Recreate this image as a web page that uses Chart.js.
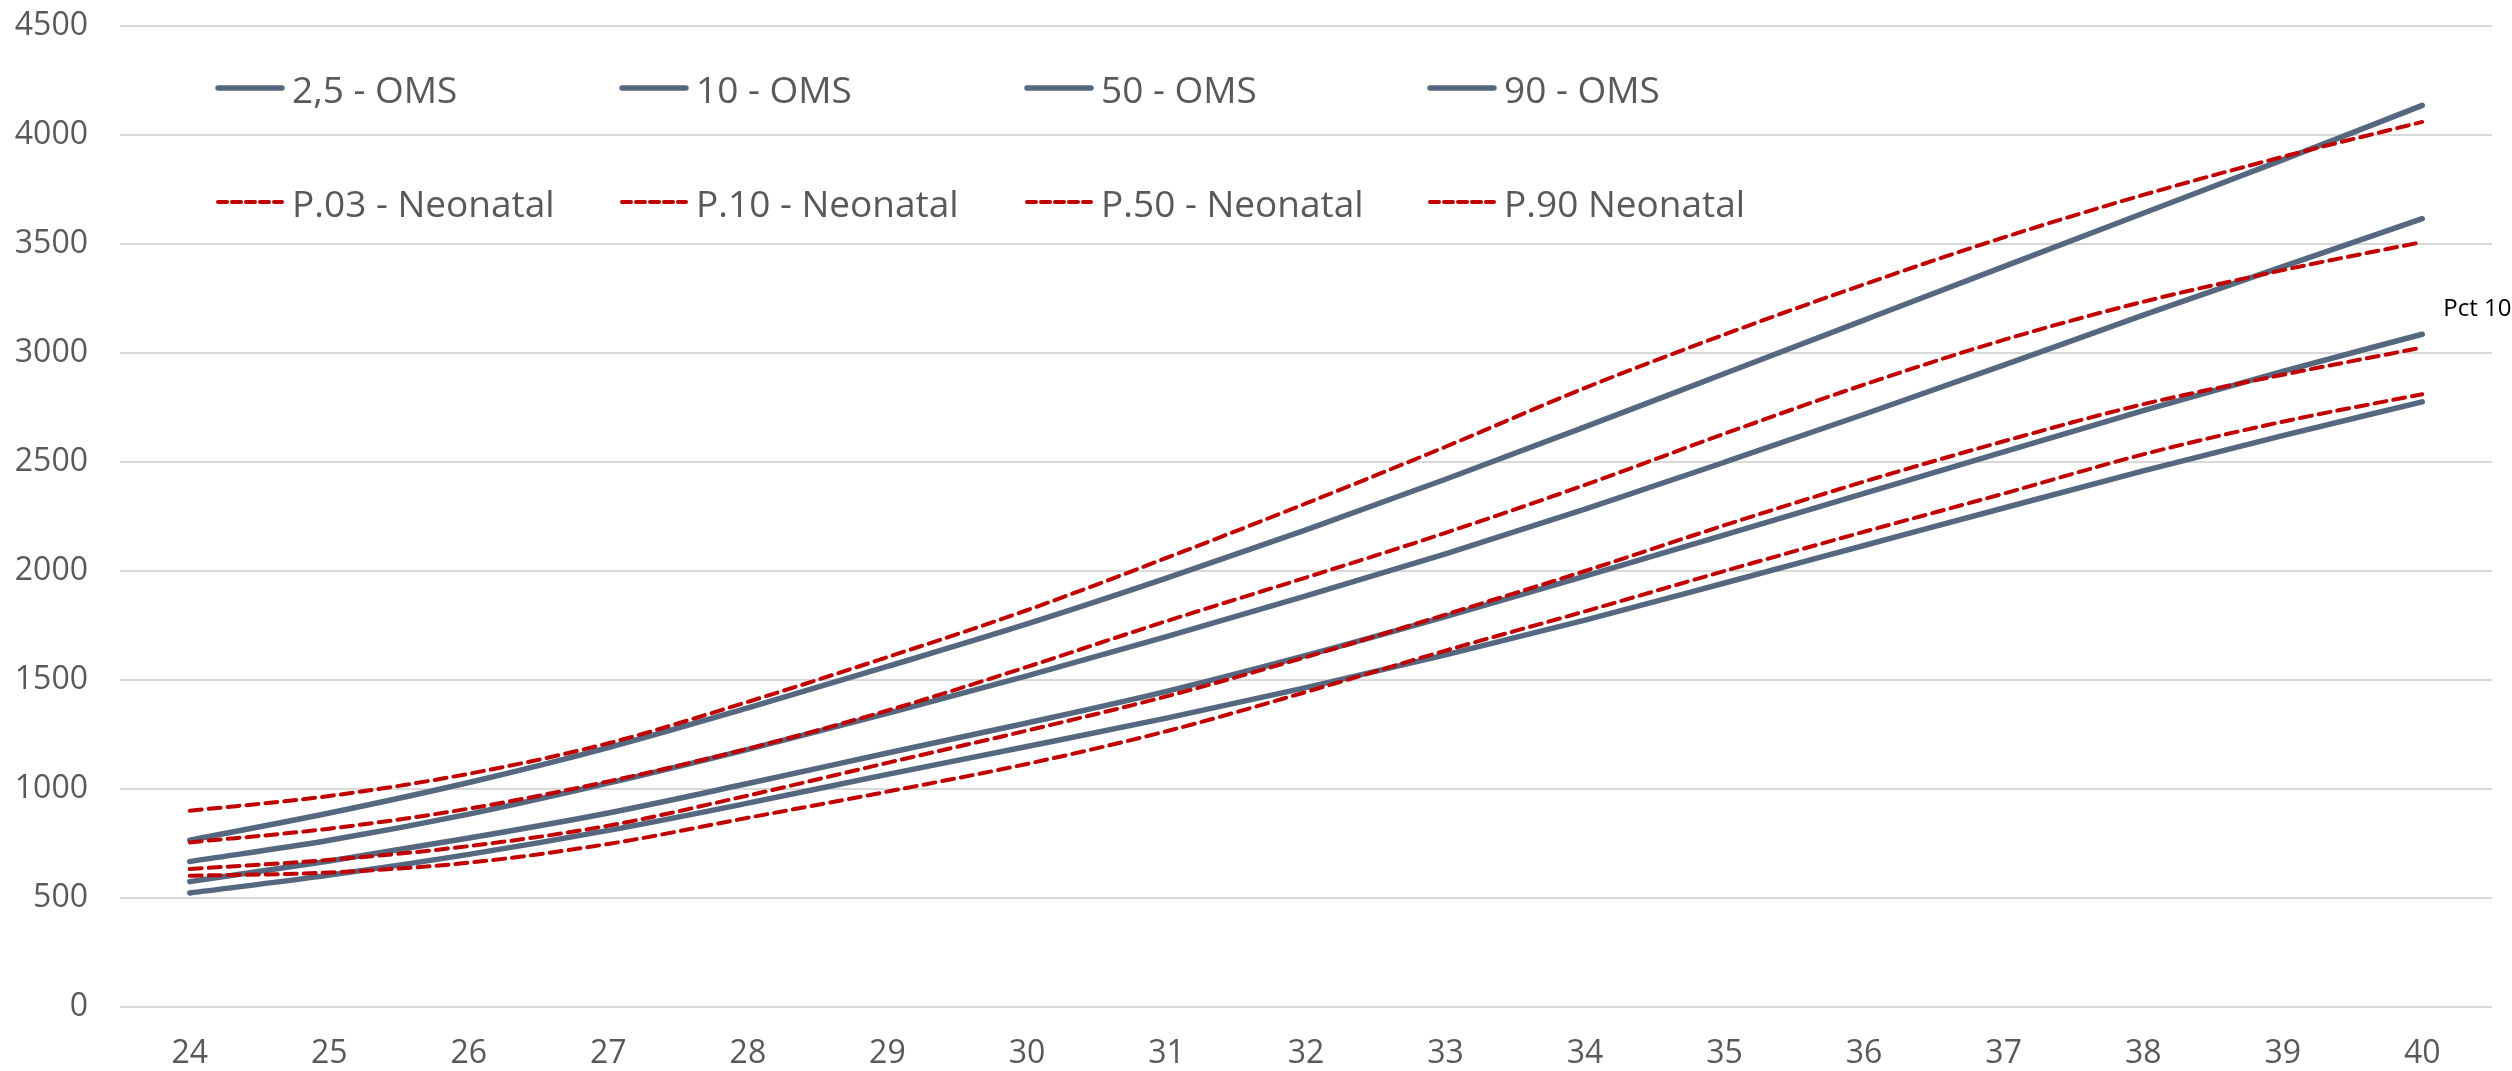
<!DOCTYPE html>
<html>
<head>
<meta charset="utf-8">
<script src="https://cdn.jsdelivr.net/npm/chart.js@4.4.1/dist/chart.umd.min.js"></script>
<style>
  html, body { margin: 0; padding: 0; background: #fff; }
  #wrap { position: relative; width: 2512px; height: 1071px; }
  #chart { display: block; }
  #legend { position: absolute; left: 0; top: 0; width: 0; height: 0; }
  .item {
    position: absolute; height: 50px; display: flex; align-items: center;
    white-space: nowrap; color: #595959; font-size: 37px;
    font-family: "Open Sans", sans-serif;
  }
  .item svg { margin-right: 6px; }
</style>
</head>
<body>
<div id="wrap">
  <canvas id="chart" width="2512" height="1071"></canvas>
  <div id="legend"></div>
</div>
<script>
// Data (gestational weeks vs weight in grams)
const weeks = ["24", "25", "26", "27", "28", "29", "30", "31", "32", "33", "34", "35", "36", "37", "38", "39", "40"];
const yTicks = [0, 500, 1000, 1500, 2000, 2500, 3000, 3500, 4000, 4500];

const omsLabels = ["2,5 - OMS", "10 - OMS", "50 - OMS", "90 - OMS"];
const neoLabels = ["P.03 - Neonatal", "P.10 - Neonatal", "P.50 - Neonatal", "P.90 Neonatal"];

const oms25 = [523, 605, 700, 810, 935, 1067, 1195, 1325, 1465, 1615, 1775, 1945, 2117, 2289, 2459, 2621, 2776];
const oms10 = [575, 670, 775, 890, 1025, 1165, 1303, 1448, 1613, 1791, 1976, 2166, 2356, 2546, 2736, 2916, 3086];
const oms50 = [667, 765, 885, 1027, 1182, 1347, 1519, 1699, 1886, 2079, 2284, 2499, 2719, 2944, 3174, 3396, 3616];
const oms90 = [765, 890, 1030, 1190, 1372, 1562, 1757, 1967, 2189, 2421, 2661, 2906, 3151, 3396, 3641, 3886, 4136];

const p03 = [602, 617, 662, 748, 868, 988, 1115, 1265, 1445, 1635, 1815, 2000, 2180, 2355, 2535, 2685, 2811];
const p10 = [633, 675, 738, 832, 970, 1120, 1268, 1425, 1605, 1800, 2000, 2210, 2410, 2595, 2765, 2900, 3025];
const p50 = [755, 818, 910, 1035, 1185, 1360, 1560, 1770, 1970, 2175, 2395, 2630, 2855, 3060, 3235, 3380, 3509];
const p90 = [900, 968, 1070, 1210, 1400, 1605, 1820, 2060, 2310, 2570, 2840, 3085, 3315, 3530, 3725, 3900, 4060];

const noteText = "Pct 10";
const noteValue = 3200;

// Styles
const blue = "#55687f";
const red = "#c00000";
const axisFont = { family: "'Open Sans', sans-serif", size: 32 };

function omsSet(label, data) {
  return {
    label, data, borderColor: blue, backgroundColor: blue, borderWidth: 5.5,
    borderCapStyle: "round", borderJoinStyle: "round",
    pointRadius: 0, cubicInterpolationMode: "monotone", fill: false, order: 2,
  };
}
function neoSet(label, data) {
  return {
    label, data, borderColor: red, backgroundColor: red, borderWidth: 4,
    borderDash: [12, 7], borderCapStyle: "round",
    pointRadius: 0, cubicInterpolationMode: "monotone", fill: false, order: 1,
  };
}

// "Pct 10" note next to the last category
const notePlugin = {
  id: "note",
  afterDatasetsDraw(chart) {
    const { ctx, scales } = chart;
    const x = scales.x.getPixelForValue(weeks.length - 1) + 21;
    const y = scales.y.getPixelForValue(noteValue);
    ctx.save();
    ctx.font = "24px 'Open Sans', sans-serif";
    ctx.fillStyle = "#000";
    ctx.textAlign = "left";
    ctx.textBaseline = "middle";
    ctx.fillText(noteText, x, y);
    ctx.restore();
  },
};

const ctx = document.getElementById("chart").getContext("2d");
new Chart(ctx, {
  type: "line",
  data: {
    labels: weeks,
    datasets: [
      omsSet(omsLabels[0], oms25),
      omsSet(omsLabels[1], oms10),
      omsSet(omsLabels[2], oms50),
      omsSet(omsLabels[3], oms90),
      neoSet(neoLabels[0], p03),
      neoSet(neoLabels[1], p10),
      neoSet(neoLabels[2], p50),
      neoSet(neoLabels[3], p90),
    ],
  },
  options: {
    responsive: false,
    devicePixelRatio: 1,
    animation: false,
    layout: { padding: { top: 26, right: 20, bottom: 0, left: 0 } },
    plugins: { legend: { display: false }, tooltip: { enabled: false } },
    scales: {
      x: {
        offset: true,
        grid: { display: false, drawTicks: false },
        border: { display: false },
        ticks: { color: "#595959", font: axisFont, padding: 28, maxRotation: 0 },
        afterFit: (scale) => { scale.height = 64; },
      },
      y: {
        min: 0, max: 4500,
        afterBuildTicks: (scale) => { scale.ticks = yTicks.map((v) => ({ value: v })); },
        grid: { color: "#d9d9d9", lineWidth: 2, drawTicks: true, tickLength: 26, tickColor: "rgba(0,0,0,0)" },
        border: { display: false },
        ticks: { color: "#595959", font: axisFont, padding: 6, callback: (v) => String(v) },
        afterFit: (scale) => { scale.width = 120; },
      },
    },
  },
  plugins: [notePlugin],
});

// HTML legend laid over the plot area, two rows of four
const legendEl = document.getElementById("legend");
const legendX = [214, 618, 1023, 1426];
const legendRows = [
  { labels: omsLabels, color: blue, width: 5.5, dash: "", cy: 88 },
  { labels: neoLabels, color: red, width: 4, dash: "9 5", cy: 202 },
];
legendRows.forEach((row) => {
  row.labels.forEach((label, i) => {
    const item = document.createElement("div");
    item.className = "item";
    item.style.left = legendX[i] + "px";
    item.style.top = row.cy - 25 + "px";
    item.innerHTML =
      `<svg width="72" height="12"><line x1="4" y1="6" x2="68" y2="6" stroke="${row.color}" ` +
      `stroke-width="${row.width}" stroke-linecap="round" stroke-dasharray="${row.dash}"/></svg>`;
    const span = document.createElement("span");
    span.textContent = label;
    item.appendChild(span);
    legendEl.appendChild(item);
  });
});
</script>
</body>
</html>
